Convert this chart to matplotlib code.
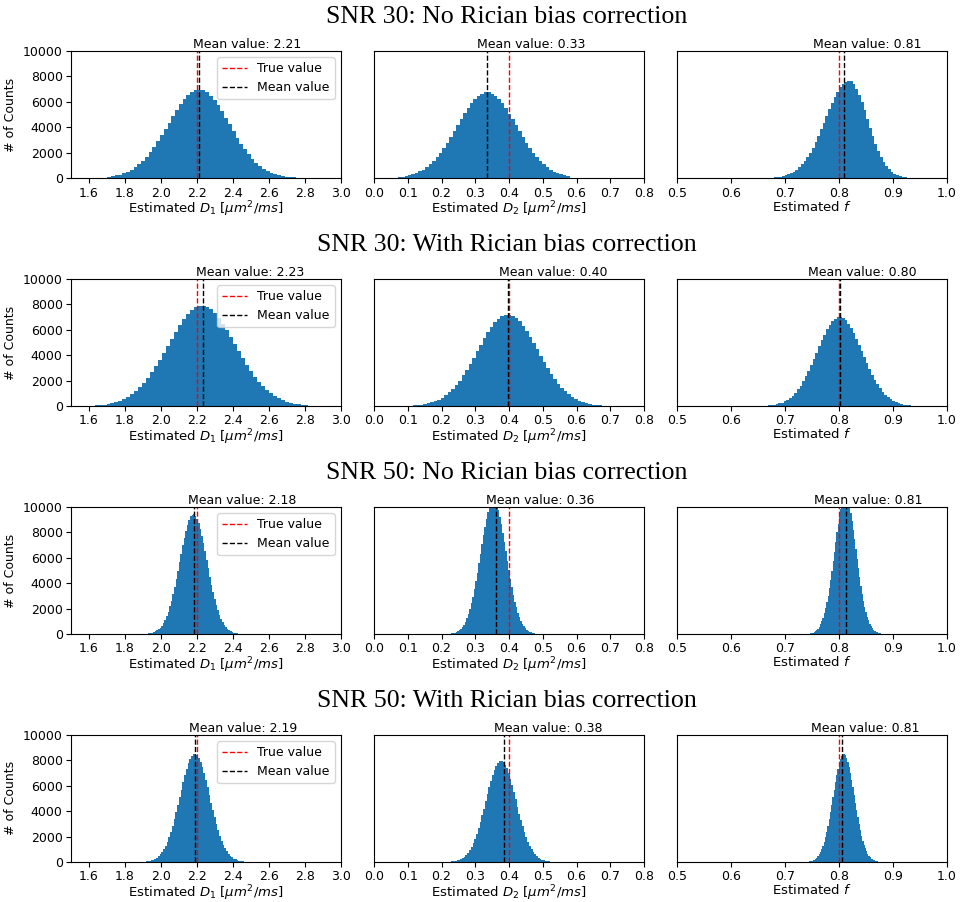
import matplotlib
matplotlib.use("Agg")
import matplotlib.pyplot as plt
import numpy as np

# Row titles and axis labels
ROW_TITLES = [
    "SNR 30: No Rician bias correction",
    "SNR 30: With Rician bias correction",
    "SNR 50: No Rician bias correction",
    "SNR 50: With Rician bias correction",
]
X_LABELS = [
    r"Estimated $D_1$ [$\mu m^2/ms$]",
    r"Estimated $D_2$ [$\mu m^2/ms$]",
    r"Estimated $f$",
]
X_LIMITS = [(1.5, 3.0), (0.0, 0.8), (0.5, 1.0)]
X_TICKS = [
    [1.6, 1.8, 2.0, 2.2, 2.4, 2.6, 2.8, 3.0],
    [0.0, 0.1, 0.2, 0.3, 0.4, 0.5, 0.6, 0.7, 0.8],
    [0.5, 0.6, 0.7, 0.8, 0.9, 1.0],
]
TRUE_VALUES = [2.2, 0.4, 0.8]

# Mean estimates, one row per SNR / correction setting
MEANS = [
    [2.212, 0.334, 0.810],
    [2.232, 0.398, 0.801],
    [2.183, 0.361, 0.812],
    [2.189, 0.384, 0.806],
]

# Histogram bin ranges (lo, hi) and counts
R1_D1_RANGE = (1.700, 2.750)
R1_D1 = [109, 153, 211, 288, 387, 513, 670, 862, 1093, 1368, 1686, 2050, 2453, 2897,
         3371, 3867, 4371, 4872, 5353, 5795, 6185, 6507, 6748, 6897, 6950, 6898, 6741,
         6485, 6143, 5728, 5260, 4752, 4228, 3703, 3194, 2713, 2266, 1866, 1512, 1206,
         947, 731, 557, 416, 308, 224, 160, 112, 78, 53]
R1_D2_RANGE = (0.070, 0.580)
R1_D2 = [86, 121, 166, 227, 305, 403, 528, 680, 867, 1090, 1351, 1651, 1993, 2373,
         2788, 3227, 3690, 4163, 4635, 5091, 5517, 5900, 6224, 6477, 6652, 6740, 6738,
         6646, 6466, 6209, 5885, 5500, 5071, 4615, 4144, 3670, 3210, 2770, 2356, 1977,
         1637, 1338, 1080, 859, 675, 523, 400, 301, 224, 165]
R1_F_RANGE = (0.674, 0.926)
R1_F = [40, 58, 83, 116, 161, 219, 296, 393, 516, 669, 857, 1080, 1347, 1655, 2010,
        2407, 2847, 3320, 3827, 4348, 4882, 5403, 5907, 6370, 6785, 7128, 7394, 7567,
        7646, 7605, 7403, 7048, 6563, 5981, 5331, 4651, 3969, 3312, 2703, 2159, 1685,
        1289, 965, 705, 504, 353, 243, 163, 106, 68]

R2_D1_RANGE = (1.609, 2.841)
R2_D1 = [43, 62, 88, 124, 172, 237, 320, 427, 563, 733, 939, 1187, 1481, 1825, 2208,
         2646, 3124, 3640, 4180, 4739, 5299, 5841, 6354, 6818, 7215, 7532, 7756, 7878,
         7893, 7800, 7605, 7313, 6937, 6492, 5992, 5455, 4898, 4338, 3790, 3267, 2777,
         2329, 1927, 1572, 1266, 1004, 786, 608, 464, 348, 258, 189, 136, 97, 68, 47]
R2_D2_RANGE = (0.104, 0.687)
R2_D2 = [39, 56, 80, 113, 157, 216, 292, 390, 513, 668, 855, 1082, 1350, 1663, 2012,
         2411, 2848, 3317, 3810, 4319, 4830, 5324, 5791, 6214, 6576, 6864, 7069, 7180,
         7194, 7109, 6931, 6665, 6322, 5917, 5461, 4972, 4464, 3954, 3454, 2977, 2531,
         2123, 1756, 1433, 1153, 915, 716, 554, 423, 317, 235, 172, 124, 89, 62, 43]
R2_F_RANGE = (0.663, 0.938)
R2_F = [38, 55, 78, 110, 153, 210, 284, 379, 499, 650, 832, 1052, 1313, 1617, 1957,
        2344, 2769, 3225, 3704, 4199, 4696, 5176, 5630, 6041, 6393, 6674, 6873, 6980,
        6994, 6912, 6738, 6480, 6147, 5753, 5310, 4834, 4340, 3844, 3358, 2895, 2461,
        2064, 1707, 1393, 1121, 890, 697, 538, 411, 308, 229, 167, 120, 86, 60, 42]

R3_D1_RANGE = (1.930, 2.428)
R3_D1 = [51, 73, 105, 148, 205, 283, 382, 510, 672, 874, 1119, 1416, 1766, 2176, 2633,
         3155, 3726, 4340, 4984, 5651, 6319, 6965, 7577, 8129, 8603, 8981, 9248, 9394,
         9412, 9301, 9068, 8720, 8272, 7741, 7145, 6505, 5840, 5173, 4519, 3895, 3311,
         2777, 2298, 1875, 1509, 1197, 937, 724, 553, 414, 308, 225, 162, 116, 81, 57]
R3_D2_RANGE = (0.229, 0.478)
R3_D2 = [57, 82, 117, 165, 229, 315, 425, 568, 749, 974, 1247, 1578, 1969, 2426, 2935,
         3516, 4153, 4837, 5556, 6299, 7043, 7764, 8445, 9062, 9590, 10011, 10309, 10471,
         10491, 10368, 10107, 9720, 9220, 8629, 7964, 7250, 6510, 5766, 5037, 4342, 3691,
         3095, 2561, 2090, 1682, 1335, 1045, 807, 616, 462, 343, 251, 181, 129, 90, 63]
R3_F_RANGE = (0.746, 0.877)
R3_F = [58, 84, 120, 170, 235, 324, 437, 584, 770, 1002, 1283, 1623, 2025, 2495, 3019,
        3617, 4271, 4976, 5714, 6479, 7245, 7986, 8686, 9320, 9864, 10297, 10603, 10770,
        10790, 10664, 10396, 9998, 9483, 8875, 8192, 7457, 6696, 5930, 5181, 4466, 3796,
        3184, 2634, 2149, 1730, 1373, 1075, 831, 634, 475, 353, 258, 186, 133, 93, 65]

R4_D1_RANGE = (1.914, 2.458)
R4_D1 = [46, 66, 94, 133, 185, 255, 344, 460, 606, 789, 1010, 1278, 1594, 1964, 2376,
         2847, 3362, 3916, 4497, 5099, 5702, 6285, 6837, 7336, 7763, 8104, 8345, 8476,
         8492, 8393, 8182, 7868, 7464, 6985, 6447, 5869, 5270, 4667, 4077, 3515, 2988,
         2506, 2073, 1692, 1362, 1080, 846, 654, 499, 374, 278, 203, 146, 105, 73, 51]
R4_D2_RANGE = (0.229, 0.522)
R4_D2 = [43, 62, 88, 125, 173, 239, 322, 430, 567, 738, 944, 1195, 1491, 1836, 2222,
         2662, 3144, 3663, 4206, 4769, 5333, 5878, 6394, 6861, 7261, 7580, 7805, 7928,
         7943, 7850, 7653, 7359, 6981, 6533, 6030, 5489, 4929, 4365, 3814, 3287, 2794,
         2344, 1939, 1582, 1274, 1010, 791, 611, 467, 350, 260, 190, 137, 98, 68, 48]
R4_F_RANGE = (0.744, 0.873)
R4_F = [46, 66, 94, 133, 185, 255, 344, 460, 606, 789, 1010, 1278, 1594, 1964, 2376,
        2847, 3362, 3916, 4497, 5099, 5702, 6285, 6837, 7336, 7763, 8104, 8345, 8476,
        8492, 8393, 8182, 7868, 7464, 6985, 6447, 5869, 5270, 4667, 4077, 3515, 2988,
        2506, 2073, 1692, 1362, 1080, 846, 654, 499, 374, 278, 203, 146, 105, 73, 51]

HISTS = [
    [(R1_D1_RANGE, R1_D1), (R1_D2_RANGE, R1_D2), (R1_F_RANGE, R1_F)],
    [(R2_D1_RANGE, R2_D1), (R2_D2_RANGE, R2_D2), (R2_F_RANGE, R2_F)],
    [(R3_D1_RANGE, R3_D1), (R3_D2_RANGE, R3_D2), (R3_F_RANGE, R3_F)],
    [(R4_D1_RANGE, R4_D1), (R4_D2_RANGE, R4_D2), (R4_F_RANGE, R4_F)],
]

# where the "Mean value" label sits relative to the mean line (data units)
TEXT_SHIFT = [0.265, 0.132, 0.043]

fig, axes = plt.subplots(4, 3, figsize=(9.6, 9.02), dpi=100)
fig.subplots_adjust(left=0.074, right=0.9865, top=0.9435, bottom=0.0443,
                    wspace=0.122, hspace=0.792)

for r in range(4):
    for c in range(3):
        ax = axes[r, c]
        (lo, hi), counts = HISTS[r][c]
        edges = np.linspace(lo, hi, len(counts) + 1)
        centers = (edges[:-1] + edges[1:]) / 2
        ax.hist(centers, bins=edges, weights=counts, color="#1f77b4")

        ax.axvline(TRUE_VALUES[c], color="red", linestyle="--", linewidth=1,
                   label="True value")
        ax.axvline(MEANS[r][c], color="black", linestyle="--", linewidth=1,
                   label="Mean value")

        ax.set_xlim(*X_LIMITS[c])
        ax.set_xticks(X_TICKS[c])
        ax.set_ylim(0, 10000)
        ax.set_xlabel(X_LABELS[c], fontsize=9.5, labelpad=0)
        ax.tick_params(labelsize=9, pad=2.5)
        ax.text(MEANS[r][c] + TEXT_SHIFT[c], 10000,
                f"Mean value: {MEANS[r][c]:.2f}", ha="center", va="bottom",
                fontsize=9)

        if c == 0:
            ax.set_yticks([0, 2000, 4000, 6000, 8000, 10000])
            ax.set_ylabel("# of Counts", fontsize=9)
            ax.legend(loc="upper right", fontsize=9)
        else:
            ax.set_yticks([])

    top = axes[r, 0].get_position().y1
    fig.text(0.528, top + 34 / 902, ROW_TITLES[r], ha="center", va="center",
             fontsize=18.6, family="Liberation Serif")

plt.savefig("out.png", dpi=100)
